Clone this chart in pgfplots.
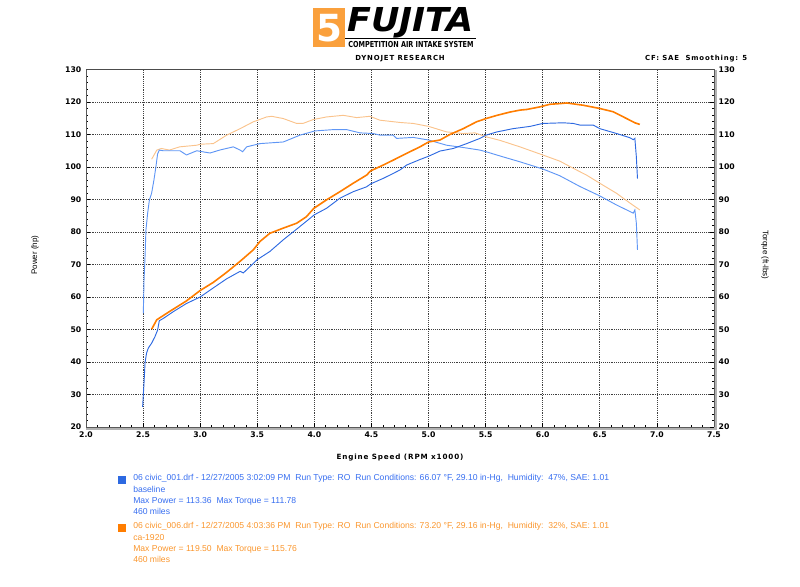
\documentclass[border=0pt]{standalone}
\usepackage{fontspec}
\setmainfont{Liberation Sans}
\newfontfamily\djfont{DejaVu Sans}
\newfontfamily\djspfont{DejaVu Sans}[LetterSpace=12]
\usepackage{graphicx}
\usepackage{pgfplots}
\pgfplotsset{compat=1.18}

\definecolor{bpow}{RGB}{45,105,225}
\definecolor{btrq}{RGB}{95,150,245}
\definecolor{opow}{RGB}{255,125,0}
\definecolor{otrq}{RGB}{250,195,140}
\definecolor{btxt}{RGB}{55,110,240}
\definecolor{otxt}{RGB}{250,150,45}
\definecolor{logoor}{RGB}{250,160,60}

\pgfplotstableread{
rpm hp
2.496 26.2
2.508 33.5
2.517 39.7
2.530 42.7
2.546 44.3
2.575 45.8
2.604 47.8
2.627 49.8
2.642 52.7
2.677 53.4
2.765 55.5
2.880 58.0
3.000 60.0
3.115 62.8
3.232 65.6
3.350 67.9
3.378 67.4
3.500 71.5
3.610 74.0
3.728 77.6
3.874 81.7
4.000 85.3
4.107 87.3
4.224 90.4
4.340 92.4
4.457 93.9
4.493 94.8
4.603 96.5
4.690 98.0
4.750 99.1
4.808 100.6
4.925 102.3
5.000 103.3
5.100 104.9
5.217 105.7
5.334 107.2
5.450 108.8
5.503 109.8
5.600 110.8
5.740 111.8
5.890 112.5
6.000 113.4
6.180 113.6
6.267 113.4
6.326 112.9
6.442 112.9
6.500 111.8
6.647 110.3
6.764 109.0
6.793 108.4
6.807 108.8
6.820 103.1
6.830 96.4
}\bluepow

\pgfplotstableread{
rpm tq
2.502 55.0
2.508 65.0
2.517 72.4
2.525 80.6
2.540 85.8
2.555 89.8
2.575 92.0
2.595 96.0
2.612 100.0
2.627 104.0
2.642 105.2
2.677 105.0
2.823 105.0
2.880 103.7
2.970 105.0
3.086 104.3
3.170 105.2
3.290 106.2
3.350 105.2
3.372 104.7
3.407 106.2
3.524 107.2
3.728 107.7
3.874 109.8
4.005 111.1
4.165 111.5
4.283 111.5
4.400 110.5
4.516 110.3
4.574 109.8
4.690 109.8
4.720 108.8
4.866 109.1
5.000 108.3
5.158 106.7
5.304 106.0
5.450 105.2
5.503 104.7
5.654 103.1
5.800 101.6
6.000 99.4
6.150 97.3
6.326 94.0
6.500 91.1
6.647 88.3
6.764 86.3
6.793 85.8
6.807 86.8
6.820 82.7
6.830 74.5
}\bluetrq

\pgfplotstableread{
rpm hp
2.575 50.1
2.620 53.0
2.730 55.5
2.880 58.8
3.000 62.0
3.115 64.5
3.232 67.6
3.350 71.0
3.465 74.5
3.524 77.1
3.610 79.6
3.728 81.2
3.845 82.7
3.930 84.7
3.996 87.3
4.107 89.9
4.224 92.4
4.340 95.0
4.457 97.5
4.493 98.8
4.603 100.6
4.690 102.1
4.808 104.2
4.925 106.2
5.000 107.7
5.100 108.3
5.187 110.0
5.304 111.8
5.420 113.9
5.503 114.9
5.600 115.9
5.713 116.9
5.800 117.5
5.860 117.7
5.975 118.5
6.063 119.3
6.150 119.5
6.210 119.7
6.355 119.0
6.500 118.0
6.617 117.0
6.735 114.9
6.807 113.6
6.850 113.1
}\orangepow

\pgfplotstableread{
rpm tq
2.575 102.4
2.620 105.2
2.660 105.7
2.730 105.2
2.820 106.2
2.970 106.7
3.000 107.0
3.115 107.2
3.232 109.8
3.350 111.8
3.465 113.9
3.582 115.4
3.626 115.6
3.728 114.9
3.845 113.4
3.900 113.4
3.990 114.6
4.107 115.4
4.253 115.9
4.370 115.2
4.487 115.6
4.574 114.4
4.750 113.7
4.866 113.4
5.000 112.5
5.158 110.8
5.304 110.3
5.406 110.5
5.503 109.3
5.625 108.2
5.800 106.2
6.000 103.7
6.150 101.8
6.267 99.6
6.384 97.5
6.500 95.0
6.647 91.9
6.764 88.9
6.850 86.8
}\orangetrq

\pgfplotsset{
  dyno/.style={
    scale only axis, width=471pt, height=268.125pt,
    at={(64.5pt,119.25pt)}, anchor=south west,
    xmin=2, xmax=7.5, ymin=20, ymax=130,
    xtick={2,2.5,...,7.5}, ytick={20,30,...,130},
    minor x tick num=4, minor y tick num=4,
    tick style={black, line width=0.5pt},
    major tick length=3pt, minor tick length=1.6pt,
    ticklabel style={font=\djfont\bfseries\fontsize{5.8}{6}\selectfont},
    /pgf/number format/assume math mode=true,
    axis line style={black!65, line width=0.6pt},
  }
}

\begin{document}
\begin{tikzpicture}[x=0.75pt,y=0.75pt]
\path (0,0) rectangle (800,586);

% logo
\fill[logoor] (313,539) rectangle (345,578);
\node[white, font=\djfont\bfseries\fontsize{28}{28}\selectfont] at (329,558) {5};
\node[anchor=west, inner sep=0pt] at (347,563)
  {\resizebox{95pt}{18pt}{\djfont\bfseries\itshape FUJITA}};
\draw[black, line width=0.8pt] (345,547.5) -- (476,547.5);
\node[anchor=west, inner sep=0pt] at (348,542)
  {\resizebox{94pt}{4.6pt}{\djfont\bfseries COMPETITION AIR INTAKE SYSTEM}};

\node[font=\djspfont\bfseries\fontsize{5.2}{6}\selectfont] at (400,527) {DYNOJET RESEARCH};
\node[anchor=east, font=\djspfont\bfseries\fontsize{5.2}{6}\selectfont] at (752,527) {CF: SAE\ \ Smoothing: 5};

% thick grey bars under bottom and right frame
\draw[black!30, line width=2.2pt] (86,157.5) -- (715.5,157.5) -- (715.5,516);

\begin{axis}[dyno,
  axis x line*=bottom, axis y line*=left,
  grid=major,
  grid style={black!75, densely dotted, line width=0.5pt},
  xticklabel style={/pgf/number format/.cd, fixed, fixed zerofill, precision=1},
]
\addplot[otrq, line width=0.7pt] table[x=rpm, y=tq] {\orangetrq};
\addplot[btrq, line width=0.7pt] table[x=rpm, y=tq] {\bluetrq};
\addplot[bpow, line width=0.7pt] table[x=rpm, y=hp] {\bluepow};
\addplot[opow, line width=1.2pt] table[x=rpm, y=hp] {\orangepow};
\end{axis}

\begin{axis}[dyno,
  axis x line=none, axis y line*=right,
]
\addplot[draw=none] coordinates {(2,20)};
\end{axis}
\draw[black!70, line width=0.8pt] (86,516.5) -- (714,516.5);

% axis titles
\node[rotate=90, font=\fontsize{6}{7}\selectfont] at (35,331) {Power (hp)};
\node[rotate=-90, font=\fontsize{6}{7}\selectfont] at (765,331) {Torque (ft-lbs)};
\node[font=\djspfont\bfseries\fontsize{5.4}{6}\selectfont] at (400,128) {Engine Speed (RPM x1000)};

% run descriptions
\fill[bpow] (118,102) rectangle (126,110);
\node[anchor=north west, inner sep=0pt, align=left, text=btxt,
      font=\fontsize{6.45}{8.5}\selectfont] at (133,111.5)
 {06 civic\_001.drf - 12/27/2005 3:02:09 PM\ \ Run Type: RO\ \ Run Conditions: 66.07 °F, 29.10 in-Hg,\ \ Humidity:\ \ 47\%, SAE: 1.01\\
  baseline\\
  Max Power = 113.36\ \ Max Torque = 111.78\\
  460 miles};
\fill[opow] (118,54) rectangle (126,62);
\node[anchor=north west, inner sep=0pt, align=left, text=otxt,
      font=\fontsize{6.45}{8.5}\selectfont] at (133,63.5)
 {06 civic\_006.drf - 12/27/2005 4:03:36 PM\ \ Run Type: RO\ \ Run Conditions: 73.20 °F, 29.16 in-Hg,\ \ Humidity:\ \ 32\%, SAE: 1.01\\
  ca-1920\\
  Max Power = 119.50\ \ Max Torque = 115.76\\
  460 miles};
\end{tikzpicture}
\end{document}
